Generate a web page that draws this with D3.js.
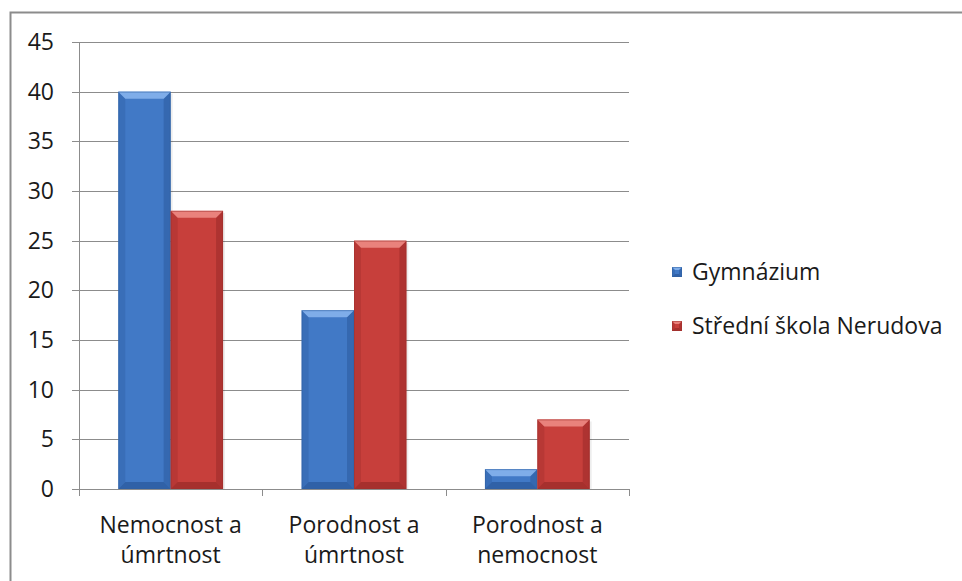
<!DOCTYPE html>
<html>
<head>
<meta charset="utf-8">
<script src="https://cdn.jsdelivr.net/npm/d3@7"></script>
<style>
  html, body { margin: 0; padding: 0; background: #fff; }
  svg { display: block; }
  text { font-family: "Open Sans", "Noto Sans", sans-serif; fill: #1a1a1a; }
</style>
</head>
<body>
<svg id="chart" width="962" height="581"></svg>
<script>
// Chart data
const categories = [["Nemocnost a", "úmrtnost"], ["Porodnost a", "úmrtnost"], ["Porodnost a", "nemocnost"]];
const seriesNames = ["Gymnázium", "Střední škola Nerudova"];
const gymnazium = [40, 18, 2];
const nerudova = [28, 25, 7];
const yTicks = [0, 5, 10, 15, 20, 25, 30, 35, 40, 45];

const series = [gymnazium, nerudova];
const palette = [
  { base: "#4179c6", light: "#86b2ec", dark: "#234f8e", edge: "#2f5f9f" },
  { base: "#c73f3b", light: "#ec8a84", dark: "#8a2422", edge: "#9e302d" }
];
const fontSize = 23;

const svg = d3.select("#chart");

// Outer chart frame (left and top edges visible)
svg.append("path")
  .attr("d", "M10.5,581 L10.5,12.5 L962,12.5")
  .attr("fill", "none").attr("stroke", "#8c8c8c").attr("stroke-width", 2);

const plot = { left: 79, right: 629, top: 42, bottom: 489 };

const y = d3.scaleLinear().domain([0, 45]).range([plot.bottom, plot.top]);
const x = d3.scaleBand().domain(d3.range(categories.length)).range([plot.left, plot.right]);
// Two bars per group with a 75% gap split around them
const bw = x.bandwidth() / (2 + 1.5);
const gap = (x.bandwidth() - 2 * bw) / 2;

// Gridlines
svg.append("g").selectAll("line").data(yTicks).join("line")
  .attr("x1", plot.left - 7).attr("x2", plot.right)
  .attr("y1", d => Math.round(y(d)) + 0.5).attr("y2", d => Math.round(y(d)) + 0.5)
  .attr("stroke", "#8c8c8c").attr("stroke-width", 1);

// Y axis line
svg.append("line")
  .attr("x1", plot.left + 0.5).attr("x2", plot.left + 0.5)
  .attr("y1", plot.top).attr("y2", plot.bottom + 7)
  .attr("stroke", "#8c8c8c");

// Category ticks
const catEdges = d3.range(categories.length + 1).map(i => plot.left + i * x.bandwidth());
svg.append("g").selectAll("line").data(catEdges).join("line")
  .attr("x1", d => Math.round(d) + 0.5).attr("x2", d => Math.round(d) + 0.5)
  .attr("y1", plot.bottom).attr("y2", plot.bottom + 7)
  .attr("stroke", "#8c8c8c");

// Y tick labels
svg.append("g").selectAll("text").data(yTicks).join("text")
  .attr("x", plot.left - 25).attr("y", d => y(d) + 8)
  .attr("text-anchor", "end").attr("font-size", fontSize)
  .text(d => d);

// Category labels
const catG = svg.append("g").selectAll("text").data(categories).join("text")
  .attr("x", (d, i) => x(i) + x.bandwidth() / 2)
  .attr("y", 533)
  .attr("text-anchor", "middle").attr("font-size", fontSize);
catG.selectAll("tspan").data(d => d).join("tspan")
  .attr("x", function () { return d3.select(this.parentNode).attr("x"); })
  .attr("dy", (d, i) => i === 0 ? 0 : 30)
  .text(d => d);

// Bevelled bar drawing
function bevelBar(g, x0, y0, w, h, c, bev) {
  const b = Math.min(bev, h / 2, w / 2);
  const x1 = x0 + w, y1 = y0 + h;
  g.append("rect").attr("x", x0).attr("y", y0).attr("width", w).attr("height", h).attr("fill", c.base);
  // left facet
  g.append("path").attr("d", `M${x0},${y0} L${x0 + b},${y0 + b} L${x0 + b},${y1 - b} L${x0},${y1} Z`)
    .attr("fill", c.dark).attr("opacity", 0.25);
  // right facet
  g.append("path").attr("d", `M${x1},${y0} L${x1 - b},${y0 + b} L${x1 - b},${y1 - b} L${x1},${y1} Z`)
    .attr("fill", c.dark).attr("opacity", 0.4);
  // bottom facet
  g.append("path").attr("d", `M${x0},${y1} L${x0 + b},${y1 - b} L${x1 - b},${y1 - b} L${x1},${y1} Z`)
    .attr("fill", c.dark).attr("opacity", 0.55);
  // top facet
  g.append("path").attr("d", `M${x0},${y0} L${x0 + b},${y0 + b} L${x1 - b},${y0 + b} L${x1},${y0} Z`)
    .attr("fill", c.light).attr("opacity", 0.9);
  g.append("rect").attr("x", x0 + 0.5).attr("y", y0 + 0.5).attr("width", w - 1).attr("height", h - 1)
    .attr("fill", "none").attr("stroke", c.edge).attr("stroke-width", 1).attr("opacity", 0.5);
}

// Bars
const barsG = svg.append("g");
series.forEach((vals, s) => {
  vals.forEach((v, i) => {
    const x0 = x(i) + gap + s * bw;
    const y0 = y(v);
    // soft shadow
    barsG.append("rect").attr("x", x0 + 2).attr("y", y0 + 2).attr("width", bw).attr("height", y(0) - y0 - 2)
      .attr("fill", "#000").attr("opacity", 0.07);
    bevelBar(barsG.append("g"), x0, y0, bw, y(0) - y0, palette[s], 7);
  });
});

// Legend
const legend = svg.append("g");
seriesNames.forEach((name, s) => {
  const ly = 272 + s * 54;
  bevelBar(legend.append("g"), 672, ly - 5, 10, 10, palette[s], 3);
  legend.append("text").attr("x", 692).attr("y", ly + 8).attr("font-size", fontSize).text(name);
});
</script>
</body>
</html>
